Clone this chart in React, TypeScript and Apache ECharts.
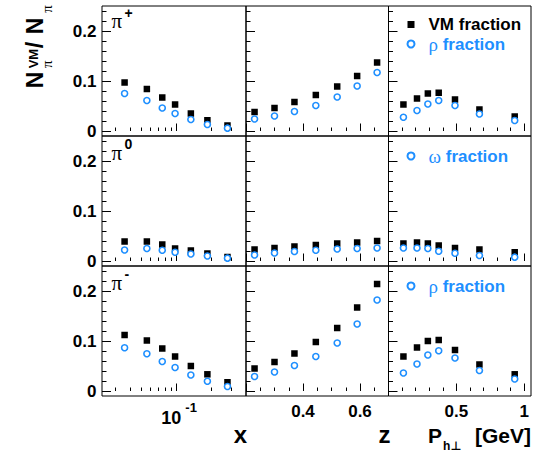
import React, { useEffect, useRef } from 'react';
import * as echarts from 'echarts';

const BLUE = '#1e8fff';

// bin centres
const xBins = [0.036, 0.056, 0.076, 0.098, 0.134, 0.186, 0.277];
const zBins = [0.23, 0.30, 0.37, 0.445, 0.52, 0.59, 0.66];
const ptBins = [0.11, 0.21, 0.29, 0.37, 0.49, 0.67, 0.93];

// pi+ (VM fraction, rho fraction)
const piPlusVMx = [0.097, 0.084, 0.067, 0.053, 0.035, 0.0215, 0.011];
const piPlusRhox = [0.075, 0.061, 0.046, 0.035, 0.023, 0.013, 0.0056];
const piPlusVMz = [0.038, 0.046, 0.058, 0.072, 0.089, 0.11, 0.137];
const piPlusRhoz = [0.024, 0.03, 0.039, 0.051, 0.068, 0.09, 0.117];
const piPlusVMpt = [0.053, 0.065, 0.075, 0.0765, 0.063, 0.043, 0.029];
const piPlusRhopt = [0.0275, 0.041, 0.054, 0.061, 0.051, 0.034, 0.021];

// pi0 (VM fraction, omega fraction)
const piZeroVMx = [0.039, 0.039, 0.033, 0.025, 0.021, 0.015, 0.008];
const piZeroOmx = [0.022, 0.025, 0.0215, 0.0175, 0.014, 0.01, 0.0056];
const piZeroVMz = [0.023, 0.026, 0.029, 0.032, 0.035, 0.037, 0.04];
const piZeroOmz = [0.012, 0.016, 0.019, 0.0215, 0.024, 0.025, 0.026];
const piZeroVMpt = [0.035, 0.037, 0.035, 0.031, 0.026, 0.023, 0.0175];
const piZeroOmpt = [0.026, 0.026, 0.025, 0.0195, 0.0155, 0.011, 0.0076];

// pi- (VM fraction, rho fraction)
const piMinusVMx = [0.112, 0.101, 0.085, 0.069, 0.05, 0.0334, 0.0175];
const piMinusRhox = [0.0865, 0.0745, 0.059, 0.047, 0.032, 0.0195, 0.009];
const piMinusVMz = [0.045, 0.058, 0.075, 0.098, 0.126, 0.167, 0.214];
const piMinusRhoz = [0.029, 0.038, 0.051, 0.069, 0.096, 0.134, 0.182];
const piMinusVMpt = [0.069, 0.087, 0.1, 0.102, 0.082, 0.053, 0.0334];
const piMinusRhopt = [0.036, 0.054, 0.072, 0.0805, 0.066, 0.041, 0.024];

// axis ticks
const yRange = [-0.01, 0.25];
const yTickMajor = [0, 0.1, 0.2];
const yTickMinor = [0.02, 0.04, 0.06, 0.08, 0.12, 0.14, 0.16, 0.18, 0.22, 0.24];
const yTickLabels = [0, 0.1, 0.2];

const xRange = [0.023, 0.4];
const xTickMajor = [0.1];
const xTickMinor = [0.03, 0.04, 0.05, 0.06, 0.07, 0.08, 0.09, 0.2, 0.3];
const xTickLabels = [0.1];

const zRange = [0.2, 0.7];
const zTickMajor = [0.2, 0.4, 0.6];
const zTickMinor = [0.25, 0.3, 0.35, 0.45, 0.5, 0.55, 0.65];
const zTickLabels = [0.4, 0.6];

const ptRange = [0, 1.05];
const ptTickMajor = [0, 0.5, 1];
const ptTickMinor = [0.1, 0.2, 0.3, 0.4, 0.6, 0.7, 0.8, 0.9];
const ptTickLabels = [0.5, 1];

const pionLabels = ['+', '0', '-'];
const fracNames = ['ρ fraction', 'ω fraction', 'ρ fraction'];

const vmRows = [
  [piPlusVMx, piPlusVMz, piPlusVMpt],
  [piZeroVMx, piZeroVMz, piZeroVMpt],
  [piMinusVMx, piMinusVMz, piMinusVMpt],
];
const fracRows = [
  [piPlusRhox, piPlusRhoz, piPlusRhopt],
  [piZeroOmx, piZeroOmz, piZeroOmpt],
  [piMinusRhox, piMinusRhoz, piMinusRhopt],
];

// layout
const colLeft = [102, 246, 388.5];
const colWidth = [144, 142.5, 142.5];
const rowTop = [6, 136, 266];
const rowHeight = 130;

const SANS = 'Liberation Sans';
const SERIF = 'Liberation Serif';

function txt(x: number, baseline: number, text: string, fs: number, opts: any = {}) {
  const serif = opts.serif;
  const c = serif ? 0.3375 : 0.3465;
  return {
    type: 'text',
    x,
    y: baseline - c * fs,
    silent: true,
    style: {
      text,
      fill: opts.color || '#000',
      fontSize: fs,
      fontFamily: opts.family || (serif ? SERIF : SANS),
      fontWeight: opts.bold ? 'bold' : 'normal',
      align: opts.align || 'left',
      verticalAlign: 'middle',
    },
  };
}

const App: React.FC = () => {
  const ref = useRef<HTMLDivElement>(null);

  useEffect(() => {
    if (!ref.current) return;
    const chart = echarts.init(ref.current, undefined, { renderer: 'svg' });

    const grids: any[] = [];
    const xAxes: any[] = [];
    const yAxes: any[] = [];
    const series: any[] = [];

    const colSpec = [
      { range: xRange, major: xTickMajor, minor: xTickMinor, labels: xTickLabels, bins: xBins, tf: (v: number) => Math.log10(v) },
      { range: zRange, major: zTickMajor, minor: zTickMinor, labels: zTickLabels, bins: zBins, tf: (v: number) => v },
      { range: ptRange, major: ptTickMajor, minor: ptTickMinor, labels: ptTickLabels, bins: ptBins, tf: (v: number) => v },
    ];

    const tickStyle = { color: '#000', width: 1 };

    for (let r = 0; r < 3; r++) {
      for (let c = 0; c < 3; c++) {
        const g = r * 3 + c;
        const spec = colSpec[c];
        grids.push({
          left: colLeft[c],
          top: rowTop[r],
          width: colWidth[c],
          height: rowHeight,
          show: true,
          borderColor: '#000',
          borderWidth: 1,
          backgroundColor: 'transparent',
        });
        const isLog = c === 0;
        xAxes.push({
          type: 'value',
          gridIndex: g,
          position: 'bottom',
          min: spec.tf(spec.range[0]),
          max: spec.tf(spec.range[1]),
          axisLine: { show: false },
          splitLine: { show: false },
          axisTick: { show: true, inside: true, length: 7.5, customValues: spec.major.map(spec.tf), lineStyle: tickStyle },
          axisLabel: {
            show: r === 2,
            customValues: spec.labels.map(spec.tf),
            margin: isLog ? 5 : 7,
            color: '#000',
            fontFamily: SANS,
            fontWeight: 'bold',
            fontSize: 17,
            formatter: isLog
              ? (v: number) => `{b|10}{s|${Math.round(v)}}`
              : (v: number) => String(+v.toFixed(2)),
            rich: isLog
              ? {
                  b: { fontSize: 18, fontWeight: 'bold', fontFamily: SANS, color: '#000', lineHeight: 26, verticalAlign: 'bottom', padding: [0, 0, 0, 6] },
                  s: { fontSize: 13, fontWeight: 'bold', fontFamily: SANS, color: '#000', verticalAlign: 'top', padding: [0, 0, 0, 4] },
                }
              : undefined,
          },
        });
        xAxes.push({
          type: 'value',
          gridIndex: g,
          position: 'bottom',
          min: spec.tf(spec.range[0]),
          max: spec.tf(spec.range[1]),
          axisLine: { show: false },
          splitLine: { show: false },
          axisTick: { show: true, inside: true, length: 3.5, customValues: spec.minor.map(spec.tf), lineStyle: tickStyle },
          axisLabel: { show: false },
        });
        yAxes.push({
          type: 'value',
          gridIndex: g,
          position: 'left',
          min: yRange[0],
          max: yRange[1],
          axisLine: { show: false },
          splitLine: { show: false },
          axisTick: { show: true, inside: true, length: 9, customValues: yTickMajor, lineStyle: tickStyle },
          axisLabel: {
            show: c === 0,
            customValues: yTickLabels,
            margin: 5.5,
            color: '#000',
            fontFamily: SANS,
            fontWeight: 'bold',
            fontSize: 17,
            formatter: (v: number) => (v === 0 ? '0' : String(v)),
          },
        });
        yAxes.push({
          type: 'value',
          gridIndex: g,
          position: 'left',
          min: yRange[0],
          max: yRange[1],
          axisLine: { show: false },
          splitLine: { show: false },
          axisTick: { show: true, inside: true, length: 4.5, customValues: yTickMinor, lineStyle: tickStyle },
          axisLabel: { show: false },
        });

        series.push({
          type: 'scatter',
          name: 'VM fraction',
          xAxisIndex: 2 * g,
          yAxisIndex: 2 * g,
          symbol: 'rect',
          symbolSize: 6.5,
          itemStyle: { color: '#000', opacity: 1 },
          data: spec.bins.map((b, i) => [spec.tf(b), vmRows[r][c][i]]),
        });
        series.push({
          type: 'scatter',
          name: fracNames[r],
          xAxisIndex: 2 * g,
          yAxisIndex: 2 * g,
          symbol: 'circle',
          symbolSize: 6,
          itemStyle: { color: '#fff', borderColor: BLUE, borderWidth: 1.6, opacity: 1 },
          data: spec.bins.map((b, i) => [spec.tf(b), fracRows[r][c][i]]),
        });
      }
    }

    const legendRich = {
      k: { color: '#000', fontWeight: 'bold', fontSize: 17, fontFamily: SANS, padding: [0, 0, 0, 9] },
      g: { color: BLUE, fontWeight: 'normal', fontSize: 19, fontFamily: SERIF, padding: [0, 0, 0, 9] },
      b: { color: BLUE, fontWeight: 'bold', fontSize: 17, fontFamily: SANS },
    };
    const legendFmt = (name: string) =>
      name === 'VM fraction' ? '{k|VM fraction}' : `{g|${name.charAt(0)}}{b| fraction}`;
    const legendBase = {
      orient: 'vertical',
      left: 406.5,
      padding: 0,
      itemGap: 1.5,
      itemWidth: 7,
      itemHeight: 7,
      selectedMode: false,
      formatter: legendFmt,
      textStyle: { rich: legendRich },
    };
    const legends = [
      { ...legendBase, top: 16, data: ['VM fraction', 'ρ fraction'] },
      { ...legendBase, top: 146.5, data: ['ω fraction'] },
      { ...legendBase, top: 276.5, data: ['ρ fraction'] },
    ];

    const graphics: any[] = [];
    const piBase = [28.5, 160, 290];
    for (let r = 0; r < 3; r++) {
      graphics.push(txt(111.5, piBase[r], 'π', 21, { serif: true }));
      graphics.push(txt(124.5, piBase[r] - 11, pionLabels[r], 14, { bold: true }));
    }
    // axis titles
    graphics.push(txt(247, 443, 'x', 24, { bold: true, align: 'right' }));
    graphics.push(txt(390.5, 443, 'z', 24, { bold: true, align: 'right' }));
    graphics.push(txt(428, 443, 'P', 21, { bold: true }));
    graphics.push(txt(443, 450.5, 'h', 12, { bold: true }));
    graphics.push(txt(450.5, 450.5, '⊥', 12, { bold: true, family: 'DejaVu Sans' }));
    graphics.push(txt(531, 443, '[GeV]', 21, { bold: true, align: 'right' }));
    // y title (rotated)
    graphics.push({
      type: 'group',
      x: 43.3,
      y: 88.3,
      rotation: Math.PI / 2,
      children: [
        txt(0, 0, 'N', 23, { bold: true }),
        txt(20, -5.5, 'VM', 13, { bold: true }),
        txt(20.3, 8.4, 'π', 15, { serif: true }),
        txt(40, 0, '/', 23, { bold: true }),
        txt(54, 0, 'N', 23, { bold: true }),
        txt(75.5, 8.4, 'π', 15, { serif: true }),
      ],
    });

    chart.setOption({
      animation: false,
      textStyle: { fontFamily: SANS },
      grid: grids,
      xAxis: xAxes,
      yAxis: yAxes,
      legend: legends,
      series,
      graphic: graphics,
    });

    return () => chart.dispose();
  }, []);

  return (
    <div
      ref={ref}
      style={{ position: 'absolute', left: 0, top: 0, width: 556, height: 452, background: '#fff' }}
    />
  );
};

export default App;
